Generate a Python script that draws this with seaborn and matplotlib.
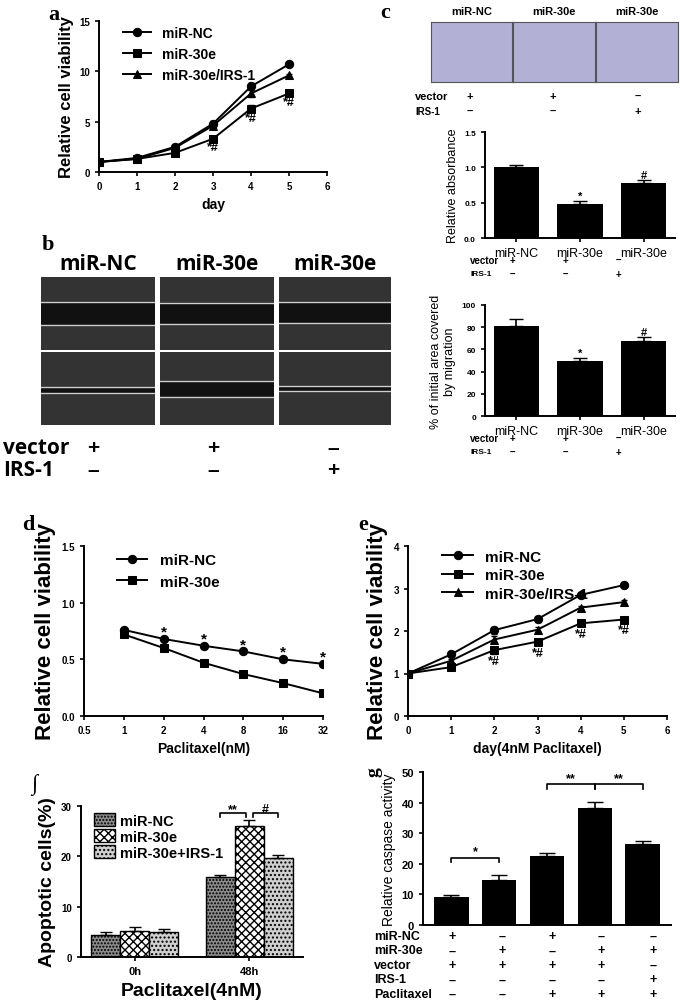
import numpy as np
import pandas as pd
import matplotlib
matplotlib.use("Agg")
import matplotlib.pyplot as plt
import seaborn as sns

plt.rcParams['font.family'] = 'Liberation Sans'
plt.rcParams['font.weight'] = 'bold'
plt.rcParams['axes.labelweight'] = 'bold'

# ---------------- data ----------------
days = [0, 1, 2, 3, 4, 5]
a_nc = [1.0, 1.4, 2.5, 4.8, 8.5, 10.7]
a_30e = [1.0, 1.3, 1.9, 3.3, 6.3, 7.8]
a_irs = [1.0, 1.3, 2.4, 4.6, 7.8, 9.6]
a_err = [0.1, 0.1, 0.15, 0.25, 0.35, 0.15]

c_groups = ["miR-NC", "miR-30e", "miR-30e"]
c_vector = ["+", "+", "\u2013"]
c_irs = ["\u2013", "\u2013", "+"]
c_abs = [1.0, 0.48, 0.78]
c_abs_err = [0.04, 0.04, 0.04]
c_abs_sig = ["", "*", "#"]
c_mig = [81, 50, 68]
c_mig_err = [6, 2, 3]
c_mig_sig = ["", "*", "#"]

d_conc = [1, 2, 4, 8, 16, 32]
d_nc = [0.76, 0.68, 0.62, 0.57, 0.50, 0.46]
d_30e = [0.72, 0.60, 0.47, 0.37, 0.29, 0.20]

e_nc = [1.0, 1.45, 2.02, 2.28, 2.85, 3.08]
e_30e = [1.0, 1.15, 1.55, 1.75, 2.18, 2.27]
e_irs = [1.0, 1.30, 1.80, 2.03, 2.55, 2.68]
e_err = [0.04, 0.04, 0.08, 0.06, 0.05, 0.04]

f_times = ["0h", "48h"]
f_series = ["miR-NC", "miR-30e", "miR-30e+IRS-1"]
f_vals = {"miR-NC": [4.4, 15.8], "miR-30e": [5.2, 26.0], "miR-30e+IRS-1": [5.0, 19.7]}
f_errs = {"miR-NC": [0.6, 0.4], "miR-30e": [0.7, 1.2], "miR-30e+IRS-1": [0.6, 0.6]}

g_vals = [9.3, 14.7, 22.6, 38.1, 26.4]
g_errs = [0.5, 1.7, 0.8, 2.1, 1.1]
g_rows = ["miR-NC", "miR-30e", "vector", "IRS-1", "Paclitaxel"]
g_table = [["+", "\u2013", "+", "\u2013", "\u2013"],
           ["\u2013", "+", "\u2013", "+", "+"],
           ["+", "+", "+", "+", "\u2013"],
           ["\u2013", "\u2013", "\u2013", "\u2013", "+"],
           ["\u2013", "\u2013", "+", "+", "+"]]

W, H = 685, 1004
fig = plt.figure(figsize=(W / 100, H / 100), dpi=100)


def axpx(l, t, r, b):
    return fig.add_axes([l / W, 1 - b / H, (r - l) / W, (b - t) / H])


def ftext(x, y, s, **kw):
    fig.text(x / W, 1 - y / H, s, **kw)


def style(ax, fs=7):
    sns.despine(ax=ax)
    ax.tick_params(labelsize=fs, width=1.2, length=3)
    for s in ['left', 'bottom']:
        ax.spines[s].set_linewidth(1.4)


serif = dict(family='Liberation Serif', weight='bold', fontsize=16)

# ---------------- a ----------------
ax = axpx(99, 22, 327, 173)
for y, m, lab in [(a_nc, 'o', 'miR-NC'), (a_30e, 's', 'miR-30e'), (a_irs, '^', 'miR-30e/IRS-1')]:
    sns.lineplot(x=days, y=y, marker=m, color='black', ax=ax, label=lab, markersize=6, linewidth=1.4, markeredgecolor='black')
    ax.errorbar(days, y, yerr=a_err, fmt='none', ecolor='black', capsize=2, lw=1)
ax.set_xlim(0, 6); ax.set_ylim(0, 15)
ax.set_xticks(range(7)); ax.set_yticks([0, 5, 10, 15])
ax.set_xlabel('day', fontsize=10); ax.set_ylabel('Relative cell viability', fontsize=12)
style(ax)
for x, yv in [(3, 2.2), (4, 5.1), (5, 6.7)]:
    ax.text(x, yv, '*#', ha='center', fontsize=9)
ax.legend(loc='upper left', bbox_to_anchor=(0.05, 1.05), frameon=False, fontsize=10, handlelength=2)
ftext(48, 20, 'a', **serif)

# ---------------- b ----------------
ftext(42, 250, 'b', **serif)
cols = [(41, 155), (160, 274), (279, 391)]
top_lines = [(303, 326), (304, 325), (303, 324)]
bot_lines = [(388, 394), (382, 398), (387, 392)]
for i, (l, r) in enumerate(cols):
    for (t, b), (y1, y2) in [((278, 351), top_lines[i]), ((353, 426), bot_lines[i])]:
        axi = axpx(l, t, r, b)
        axi.set_xlim(0, 1); axi.set_ylim(b, t)
        axi.set_facecolor('#333333')
        axi.axhspan(y1, y2, color='#111111')
        axi.axhline(y1, color='#cfcfcf', lw=1)
        axi.axhline(y2, color='#cfcfcf', lw=1)
        axi.set_xticks([]); axi.set_yticks([])
        for s in axi.spines.values():
            s.set_visible(False)
    ftext((l + r) / 2, 265, c_groups[i], ha='center', va='center', fontsize=15, family='Open Sans', weight='bold')
ftext(3, 448, 'vector', fontsize=15, va='center', family='Open Sans', weight='bold')
ftext(3, 470, 'IRS-1', fontsize=15, va='center', family='Open Sans', weight='bold')
for x, v, irs in zip([93, 213, 333], c_vector, c_irs):
    ftext(x, 448, v, ha='center', va='center', fontsize=15, weight='bold')
    ftext(x, 470, irs, ha='center', va='center', fontsize=15, weight='bold')

# ---------------- c ----------------
ftext(380, 18, 'c', **serif)
c_cols = [(431, 512), (513, 595), (596, 678)]
for i, (l, r) in enumerate(c_cols):
    axi = axpx(l, 23, r, 83)
    axi.set_facecolor('#b3b0d6')
    axi.set_xticks([]); axi.set_yticks([])
    for s in axi.spines.values():
        s.set_color('#555555')
    ftext((l + r) / 2, 12, c_groups[i], ha='center', va='center', fontsize=8)
ftext(415, 97, 'vector', fontsize=8, va='center')
ftext(415, 112, 'IRS-1', fontsize=7, va='center')
for x, v, irs in zip([470, 553, 638], c_vector, c_irs):
    ftext(x, 97, v, ha='center', va='center', fontsize=8)
    ftext(x, 112, irs, ha='center', va='center', fontsize=8)


def cbar(t, b, vals, errs, sig, ymax, yticks, ylabel, yfmt, rows_y):
    ax = axpx(485, t, 675, b)
    df = pd.DataFrame({'g': ['a', 'b', 'c'], 'v': vals})
    sns.barplot(data=df, x='g', y='v', color='black', width=0.72, ax=ax, saturation=1)
    ax.errorbar(range(3), vals, yerr=[[0] * 3, errs], fmt='none', ecolor='black', capsize=5, lw=1.2)
    ax.set_ylim(0, ymax); ax.set_yticks(yticks)
    ax.set_yticklabels([yfmt.format(v) for v in yticks])
    ax.set_xticks(range(3)); ax.set_xticklabels(c_groups, fontsize=9, weight='normal')
    ax.tick_params(axis='x', length=0)
    ax.set_xlabel(''); ax.set_ylabel(ylabel, fontsize=9, weight='normal')
    style(ax, 6)
    ax.tick_params(axis='x', labelsize=9)
    for i, s in enumerate(sig):
        if s:
            ax.text(i, vals[i] + errs[i] + ymax * 0.02, s, ha='center', fontsize=8)
    ftext(470, rows_y[0], 'vector', fontsize=7, va='center')
    ftext(470, rows_y[1], 'IRS-1', fontsize=6, va='center')
    xs = [512, 565, 618]
    for x, v, irs in zip(xs, c_vector, c_irs):
        ftext(x, rows_y[0], v, ha='center', va='center', fontsize=7)
        ftext(x, rows_y[1], irs, ha='center', va='center', fontsize=7)
    return ax


cbar(133, 239, c_abs, c_abs_err, c_abs_sig, 1.5, [0, 0.5, 1.0, 1.5], 'Relative absorbance', '{:.1f}', (261, 275))
cbar(306, 417, c_mig, c_mig_err, c_mig_sig, 100, [0, 20, 40, 60, 80, 100], '% of initial area covered\nby migration', '{:d}', (439, 453))

# ---------------- d ----------------
ax = axpx(84, 547, 323, 717)
for y, m, lab in [(d_nc, 'o', 'miR-NC'), (d_30e, 's', 'miR-30e')]:
    sns.lineplot(x=d_conc, y=y, marker=m, color='black', ax=ax, label=lab, markersize=6, linewidth=1.4, markeredgecolor='black')
ax.set_xscale('log', base=2)
ax.set_xlim(0.5, 32); ax.set_ylim(0, 1.5)
ticks = [0.5, 1, 2, 4, 8, 16, 32]
ax.set_xticks(ticks); ax.set_xticklabels(['0.5', '1', '2', '4', '8', '16', '32'])
ax.minorticks_off()
ax.set_yticks([0, 0.5, 1.0, 1.5]); ax.set_yticklabels(['0.0', '0.5', '1.0', '1.5'])
ax.set_xlabel('Paclitaxel(nM)', fontsize=10); ax.set_ylabel('Relative cell viability', fontsize=16)
style(ax)
for x, yv in zip(d_conc[1:], d_nc[1:]):
    ax.text(x, yv + 0.03, '*', ha='center', fontsize=11)
ax.legend(loc='upper left', bbox_to_anchor=(0.08, 1.04), frameon=False, fontsize=11, handlelength=2)
ftext(22, 530, 'd', **serif)

# ---------------- e ----------------
ax = axpx(408, 547, 667, 717)
for y, m, lab in [(e_nc, 'o', 'miR-NC'), (e_30e, 's', 'miR-30e'), (e_irs, '^', 'miR-30e/IRS-1')]:
    sns.lineplot(x=days, y=y, marker=m, color='black', ax=ax, label=lab, markersize=6, linewidth=1.4, markeredgecolor='black')
    ax.errorbar(days, y, yerr=e_err, fmt='none', ecolor='black', capsize=2, lw=1)
ax.set_xlim(0, 6); ax.set_ylim(0, 4)
ax.set_xticks(range(7)); ax.set_yticks(range(5))
ax.set_xlabel('day(4nM Paclitaxel)', fontsize=10); ax.set_ylabel('Relative cell viability', fontsize=16)
style(ax)
for x, yv in [(2, 1.22), (3, 1.42), (4, 1.85), (5, 1.95)]:
    ax.text(x, yv, '*#', ha='center', fontsize=9)
ax.legend(loc='upper left', bbox_to_anchor=(0.08, 1.06), frameon=False, fontsize=11, handlelength=2,
          labelspacing=0.3)
ftext(358, 530, 'e', **serif)

# ---------------- f ----------------
ax = axpx(81, 807, 303, 958)
rows = []
for s in f_series:
    for t, v in zip(f_times, f_vals[s]):
        rows.append({'time': t, 'series': s, 'v': v})
df = pd.DataFrame(rows)
sns.barplot(data=df, x='time', y='v', hue='series', ax=ax, palette=['#8c8c8c', '#ffffff', '#cfcfcf'],
            width=0.76, edgecolor='black', linewidth=1, saturation=1)
hatches = ['.....', 'xxxx', '....']
for cont, h, s in zip(ax.containers, hatches, f_series):
    for p in cont:
        p.set_hatch(h)
    xs = [p.get_x() + p.get_width() / 2 for p in cont]
    ax.errorbar(xs, f_vals[s], yerr=[[0, 0], f_errs[s]], fmt='none', ecolor='black', capsize=4, lw=1.2)
ax.set_ylim(0, 30); ax.set_yticks([0, 10, 20, 30])
ax.set_xlabel('Paclitaxel(4nM)', fontsize=14); ax.set_ylabel('Apoptotic cells(%)', fontsize=14)
style(ax, 7)
ax.tick_params(axis='x', labelsize=8)
bx = [p.get_x() + p.get_width() / 2 for p in (ax.containers[0][1], ax.containers[1][1], ax.containers[2][1])]
for (x1, x2), lab in [((bx[0], bx[1] - 0.03), '**'), ((bx[1] + 0.03, bx[2]), '#')]:
    ax.plot([x1, x1, x2, x2], [27.8, 28.6, 28.6, 27.8], color='black', lw=1.2)
    ax.text((x1 + x2) / 2, 28.8, lab, ha='center', fontsize=9)
leg = ax.legend(loc='upper left', bbox_to_anchor=(0.0, 1.04), frameon=False, fontsize=10.5,
                handlelength=1.4, handleheight=1.0, labelspacing=0.1, handletextpad=0.4)
for hnd, h in zip(leg.legend_handles, hatches):
    hnd.set_hatch(h); hnd.set_edgecolor('black')
ftext(31, 790, '\u222b', family='Liberation Serif', fontsize=16)

# ---------------- g ----------------
ax = axpx(423, 773, 671, 926)
dfg = pd.DataFrame({'i': list(range(5)), 'v': g_vals})
sns.barplot(data=dfg, x='i', y='v', color='black', width=0.72, ax=ax, saturation=1)
ax.errorbar(range(5), g_vals, yerr=[[0] * 5, g_errs], fmt='none', ecolor='black', capsize=6, lw=1.2)
ax.set_ylim(0, 50); ax.set_yticks([0, 10, 20, 30, 40, 50])
ax.set_xticks([]); ax.set_xlabel('')
ax.set_ylabel('Relative caspase activity', fontsize=10, weight='normal')
style(ax, 8)
for (i1, i2), y, lab in [((0, 1), 22, '*'), ((2, 3), 46, '**'), ((3, 4), 46, '**')]:
    ax.plot([i1, i1, i2, i2], [y - 1.5, y, y, y - 1.5], color='black', lw=1.2)
    ax.text((i1 + i2) / 2, y + 1, lab, ha='center', fontsize=9)
xsg = [452, 502, 552, 601, 653]
for r, (lab, vals) in enumerate(zip(g_rows, g_table)):
    y = 937 + r * 14.5
    ftext(374, y, lab, fontsize=9, va='center')
    for x, v in zip(xsg, vals):
        ftext(x, y, v, ha='center', va='center', fontsize=9)
ftext(366, 772, 'g', family='Liberation Serif', fontsize=14, rotation=90, va='center')

fig.savefig('out.png', dpi=100)
